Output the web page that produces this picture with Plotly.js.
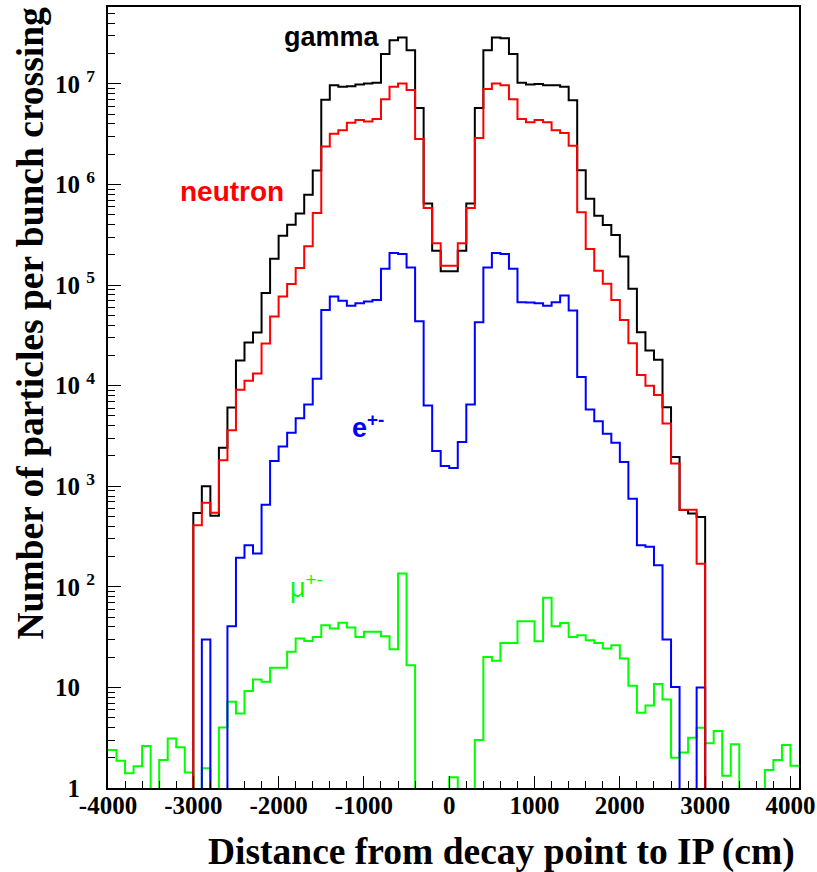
<!DOCTYPE html>
<html>
<head>
<meta charset="utf-8">
<script src="https://cdn.plot.ly/plotly-3.0.1.min.js"></script>
<style>html,body{margin:0;padding:0;background:#fff;}</style>
</head>
<body>
<div id="chart" style="width:817px;height:872px;"></div>
<script>
// Bin edges (cm), 100 cm bins
const binEdges = [-4000,-3900,-3800,-3700,-3600,-3500,-3400,-3300,-3200,-3100,
  -3000,-2900,-2800,-2700,-2600,-2500,-2400,-2300,-2200,-2100,
  -2000,-1900,-1800,-1700,-1600,-1500,-1400,-1300,-1200,-1100,
  -1000,-900,-800,-700,-600,-500,-400,-300,-200,-100,
  0,100,200,300,400,500,600,700,800,900,
  1000,1100,1200,1300,1400,1500,1600,1700,1800,1900,
  2000,2100,2200,2300,2400,2500,2600,2700,2800,2900,
  3000,3100,3200,3300,3400,3500,3600,3700,3800,3900,
  4000,4100];

// Particles per bunch crossing per bin (81 bins)
const gamma = [0,0,0,0,0,0,0,0,0,0,
  542,1000,510,2420,6070,17800,26800,33700,83600,183000,
  310000,399000,516000,792000,1380000,6950000,9700000,9400000,9500000,9900000,
  10100000,10300000,19800000,27200000,28900000,21600000,5750000,649000,220000,137000,
  137000,220000,649000,5750000,21600000,28900000,28500000,19800000,10300000,9900000,
  10000000,9700000,9700000,9400000,6900000,1390000,720000,490000,396000,315000,
  193000,92000,34000,22400,18100,6100,1950,580,535,494,
  0,0,0,0,0,0,0,0,0,0,0];

const neutron = [0,0,0,0,0,0,0,0,0,0,
  410,687,545,1810,3610,9100,11200,13200,26200,48600,
  76900,102800,148000,243000,521000,2390000,3200000,3470000,4110000,4370000,
  4240000,4470000,7060000,9400000,10100000,8700000,2830000,585000,260000,156000,
  156000,260000,585000,2900000,8900000,10100000,9700000,7060000,4470000,4150000,
  4370000,4150000,3470000,3250000,2430000,530000,229000,139000,103000,71000,
  45000,26400,12800,10000,8100,4200,1680,585,585,170,
  0,0,0,0,0,0,0,0,0,0,0];

const electron = [0,0,0,0,0,0,0,0,0,0,
  0,30,0,0,40.6,195,259,214,656,1780,
  2490,3400,4750,6500,11700,56700,77000,70000,62500,66000,
  68600,71000,145000,209000,204000,150000,43700,6360,2240,1590,
  1520,2750,6500,42700,150000,209000,204000,145000,67500,67000,
  66000,62500,67500,79000,56000,12200,5800,4440,3330,2710,
  1740,753,259,251,164,30,10.1,0,0,10,
  0,0,0,0,0,0,0,0,0,0,0];

const muon = [2.38,1.87,1.4,1.65,2.61,0,1.9,3.1,2.54,1.43,
  0,1.57,0,4.0,7.2,5.5,9.2,12,11.4,15.7,
  15.7,22.6,30.6,29,31.8,41.6,38.5,44,39.4,31.8,
  35.7,35.7,32.3,24,136,16.6,0,0,0,0,
  1.28,0,0,3.0,20.1,18.4,27.7,27.7,45.5,45.5,
  28.8,78,40.6,43.8,31.8,33,29.5,27.7,24.4,26.3,
  19.4,10.4,5.6,6.6,10.8,7.6,2.0,2.26,3.16,3.97,
  2.78,3.68,1.32,2.72,0,0,0,1.51,1.9,2.67,1.66];

const xTickVals = [-4000,-3000,-2000,-1000,0,1000,2000,3000,4000];
const xTickText = ['-4000','-3000','-2000','-1000','0','1000','2000','3000','4000'];
const yTickVals = [1,10,100,1000,10000,100000,1000000,10000000];
const hid = "<span style='color:rgba(0,0,0,0)'> <sup>0</sup></span>";
const yTickText = ['1'+hid,'10'+hid,'10 <sup>2</sup>','10 <sup>3</sup>','10 <sup>4</sup>','10 <sup>5</sup>','10 <sup>6</sup>','10 <sup>7</sup>'];

const FLOOR = 0.3; // empty bins drawn below the visible range (as ROOT does)

function stepTrace(vals, color) {
  const x = [], y = [];
  for (let i = 0; i < vals.length; i++) {
    x.push(binEdges[i]);
    y.push(vals[i] > 0 ? vals[i] : FLOOR);
  }
  x.push(binEdges[vals.length]);
  y.push(vals[vals.length-1] > 0 ? vals[vals.length-1] : FLOOR);
  return {x: x, y: y, type: 'scatter', mode: 'lines',
          line: {shape: 'hv', color: color, width: 2},
          hoverinfo: 'skip'};
}

const minorY = [];
for (let e = 0; e < 8; e++) for (let k = 2; k <= 9; k++) {
  const v = k * Math.pow(10, e);
  if (v < 5.8e7) minorY.push(v);
}

const data = [
  stepTrace(muon, '#00ff00'),
  stepTrace(electron, '#0000ff'),
  stepTrace(gamma, '#000000'),
  stepTrace(neutron, '#ff0000')
];

const tickFont = {family: 'Liberation Serif, Times New Roman, serif', size: 25, color: '#000', weight: 'bold'};
const titleFont = {family: 'Liberation Serif, Times New Roman, serif', size: 37.5, color: '#000', weight: 'bold'};
const labFont = (c, w, s) => ({family: 'Liberation Sans, Arial, Helvetica, sans-serif', size: s, color: c, weight: w});

const W = 691, H = 781; // plot area px
const px = v => (v - 108) / W;
const py = v => (788 - v) / H;

const layout = {
  width: 817, height: 872,
  margin: {l: 108, r: 18, t: 7, b: 84, pad: 0},
  paper_bgcolor: '#fff', plot_bgcolor: '#fff',
  showlegend: false,
  xaxis: {
    range: [-4000, 4100], tickmode: 'array', tickvals: xTickVals, ticktext: xTickText,
    ticks: 'inside', ticklen: 12, tickwidth: 1, tickcolor: '#000',
    showline: true, linewidth: 2, linecolor: '#000', mirror: true,
    showgrid: false, zeroline: false, tickfont: tickFont, ticklabelstandoff: -6,
    minor: {tickmode: 'linear', tick0: -4000, dtick: 200, ticks: 'inside', ticklen: 7, tickwidth: 1, tickcolor: '#000', showgrid: false}
  },
  yaxis: {
    type: 'log', range: [0, 7.765], tickmode: 'array', tickvals: yTickVals, ticktext: yTickText,
    ticks: 'inside', ticklen: 13, tickwidth: 1, tickcolor: '#000',
    showline: true, linewidth: 2, linecolor: '#000', mirror: true,
    showgrid: false, zeroline: false, tickfont: tickFont, ticklabelstandoff: 6,
    minor: {tickmode: 'array', tickvals: minorY, ticks: 'inside', ticklen: 7, tickwidth: 1, tickcolor: '#000', showgrid: false}
  },
  annotations: [
    {text: 'gamma', xref: 'paper', yref: 'paper', x: px(332), y: py(37), xanchor: 'center', yanchor: 'middle', showarrow: false, font: labFont('#000', 'bold', 27)},
    {text: 'neutron', xref: 'paper', yref: 'paper', x: px(232), y: py(192), xanchor: 'center', yanchor: 'middle', showarrow: false, font: labFont('#ff0000', 'bold', 28)},
    {text: 'e<sup>+-</sup>', xref: 'paper', yref: 'paper', x: px(368), y: py(426), xanchor: 'center', yanchor: 'middle', showarrow: false, font: labFont('#0000ff', 'bold', 27)},
    {text: 'μ<sup>+-</sup>', xref: 'paper', yref: 'paper', x: px(306), y: py(586), xanchor: 'center', yanchor: 'middle', showarrow: false, font: labFont('#00ff00', 'normal', 27)},
    {text: 'Distance from decay point to IP (cm)', xref: 'paper', yref: 'paper', x: px(797), y: py(852), xanchor: 'right', yanchor: 'middle', showarrow: false, font: titleFont},
    {text: 'Number of particles per bunch crossing', xref: 'paper', yref: 'paper', x: px(30), y: py(5), xanchor: 'center', yanchor: 'top', textangle: -90, showarrow: false, font: titleFont}
  ]
};

Plotly.newPlot('chart', data, layout, {displayModeBar: false, staticPlot: true});
</script>
</body>
</html>
